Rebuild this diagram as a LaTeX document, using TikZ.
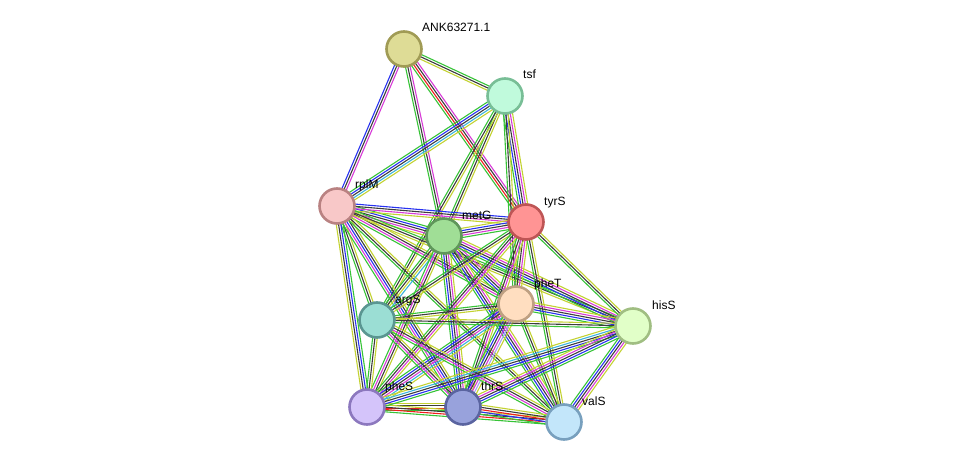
\documentclass[tikz,border=0pt]{standalone}
\usepackage{fontspec}
\setmainfont{Liberation Sans}
\usetikzlibrary{calc}
\definecolor{cG}{RGB}{55,195,55}
\definecolor{cY}{RGB}{195,210,50}
\definecolor{cK}{RGB}{60,60,60}
\definecolor{cM}{RGB}{215,60,215}
\definecolor{cB}{RGB}{40,50,240}
\definecolor{cC}{RGB}{60,180,220}
\definecolor{cR}{RGB}{240,30,30}
\definecolor{cH}{RGB}{165,165,240}
\pgfdeclarelayer{bg}\pgfsetlayers{bg,main}
\newcommand\sedge[3]{%
  \foreach \c [count=\i] in {#3} {\xdef\nn{\i}}%
  \foreach \c [count=\i] in {#3} {%
    \pgfmathsetmacro\off{(\i-(\nn+1)/2)*2.3}%
    \draw[color=\c, line width=1.1pt] ($(#1)!\off pt!90:(#2)$) -- ($(#2)!\off pt!-90:(#1)$);
  }%
}
\begin{document}
\begin{tikzpicture}[x=1pt,y=-1pt,
  prot/.style={circle, minimum size=35pt, inner sep=0pt, line width=2.6pt},
  lbl/.style={anchor=base west, inner sep=0pt, font=\fontsize{12}{14}\selectfont}]
\useasboundingbox (0,0) rectangle (975,468);
\node[prot, fill={rgb,255:red,222;green,220;blue,150}, draw={rgb,255:red,160;green,155;blue,85}] (ank) at (404,49) {};
\node[prot, fill={rgb,255:red,192;green,250;blue,220}, draw={rgb,255:red,120;green,190;blue,150}] (tsf) at (505,96) {};
\node[prot, fill={rgb,255:red,248;green,200;blue,200}, draw={rgb,255:red,185;green,130;blue,130}] (rplM) at (337,206) {};
\node[prot, fill={rgb,255:red,160;green,222;blue,150}, draw={rgb,255:red,95;green,150;blue,90}] (metG) at (444,236) {};
\node[prot, fill={rgb,255:red,255;green,148;blue,148}, draw={rgb,255:red,190;green,85;blue,85}] (tyrS) at (526,222) {};
\node[prot, fill={rgb,255:red,255;green,222;blue,192}, draw={rgb,255:red,190;green,160;blue,130}] (pheT) at (516,304) {};
\node[prot, fill={rgb,255:red,155;green,222;blue,212}, draw={rgb,255:red,90;green,150;blue,145}] (argS) at (377,320) {};
\node[prot, fill={rgb,255:red,225;green,255;blue,200}, draw={rgb,255:red,160;green,190;blue,130}] (hisS) at (633,326) {};
\node[prot, fill={rgb,255:red,212;green,196;blue,250}, draw={rgb,255:red,140;green,120;blue,190}] (pheS) at (367,407) {};
\node[prot, fill={rgb,255:red,152;green,162;blue,220}, draw={rgb,255:red,90;green,100;blue,160}] (thrS) at (463,407) {};
\node[prot, fill={rgb,255:red,195;green,230;blue,250}, draw={rgb,255:red,120;green,160;blue,190}] (valS) at (564,422) {};
\node[lbl] (lank) at (422,32) {ANK63271.1};
\node[lbl] (ltsf) at (523,79) {tsf};
\node[lbl] (lrplM) at (355,189) {rplM};
\node[lbl] (lmetG) at (462,219) {metG};
\node[lbl] (ltyrS) at (544,205) {tyrS};
\node[lbl] (lpheT) at (534,287) {pheT};
\node[lbl] (largS) at (395,303) {argS};
\node[lbl] (lhisS) at (652,309) {hisS};
\node[lbl] (lpheS) at (385,390) {pheS};
\node[lbl] (lthrS) at (481,390) {thrS};
\node[lbl] (lvalS) at (582,405) {valS};
\begin{pgfonlayer}{bg}
\sedge{ank}{tsf}{cY,cK,cG}
\sedge{ank}{rplM}{cB,cK,cM}
\sedge{ank}{metG}{cG,cK,cM}
\sedge{ank}{tyrS}{cG,cR,cK,cM}
\sedge{tsf}{rplM}{cG,cB,cK,cC,cY}
\sedge{tsf}{metG}{cG,cK,cY}
\sedge{tsf}{argS}{cG,cK,cY}
\sedge{tsf}{tyrS}{cG,cB,cK,cM,cY}
\sedge{tsf}{pheT}{cG,cK,cY}
\sedge{rplM}{metG}{cY,cM,cK,cB,cG}
\sedge{rplM}{tyrS}{cY,cM,cK,cB}
\sedge{rplM}{pheT}{cG,cM,cK,cY}
\sedge{rplM}{argS}{cG,cK,cY}
\sedge{rplM}{pheS}{cY,cK,cB,cG}
\sedge{rplM}{thrS}{cG,cM,cB,cK,cY}
\sedge{rplM}{valS}{cG,cK,cY}
\sedge{rplM}{hisS}{cY,cK,cG}
\sedge{metG}{tyrS}{cG,cM,cK,cB,cY}
\sedge{metG}{argS}{cG,cK,cY,cC}
\sedge{metG}{pheT}{cG,cB,cK,cM,cY}
\sedge{metG}{pheS}{cG,cM,cK,cY}
\sedge{metG}{thrS}{cG,cB,cK,cM,cY}
\sedge{metG}{valS}{cG,cB,cK,cM,cY}
\sedge{metG}{hisS}{cG,cB,cK,cM,cY}
\sedge{tyrS}{pheT}{cG,cK,cM,cY}
\sedge{tyrS}{argS}{cG,cK,cY}
\sedge{tyrS}{pheS}{cG,cK,cM,cY}
\sedge{tyrS}{thrS}{cG,cK,cM,cY}
\sedge{tyrS}{valS}{cG,cK,cY}
\sedge{tyrS}{hisS}{cG,cK,cY}
\sedge{pheT}{argS}{cG,cK,cY}
\sedge{pheT}{pheS}{cG,cB,cK,cM,cC,cY}
\sedge{pheT}{thrS}{cG,cB,cK,cM,cH,cY}
\sedge{pheT}{valS}{cG,cK,cY}
\sedge{pheT}{hisS}{cG,cB,cK,cM,cY}
\sedge{argS}{pheS}{cG,cK,cY}
\sedge{argS}{thrS}{cG,cM,cK,cY}
\sedge{argS}{valS}{cG,cM,cK,cY}
\sedge{argS}{hisS}{cG,cK,cY}
\sedge{pheS}{thrS}{cG,cR,cK,cY}
\sedge{pheS}{valS}{cG,cR,cK,cY}
\sedge{pheS}{hisS}{cG,cB,cK,cC,cY}
\sedge{thrS}{valS}{cG,cB,cR,cK,cY}
\sedge{thrS}{hisS}{cG,cB,cK,cM,cY}
\sedge{valS}{hisS}{cY,cM,cK,cB,cG}
\end{pgfonlayer}
\end{tikzpicture}
\end{document}
